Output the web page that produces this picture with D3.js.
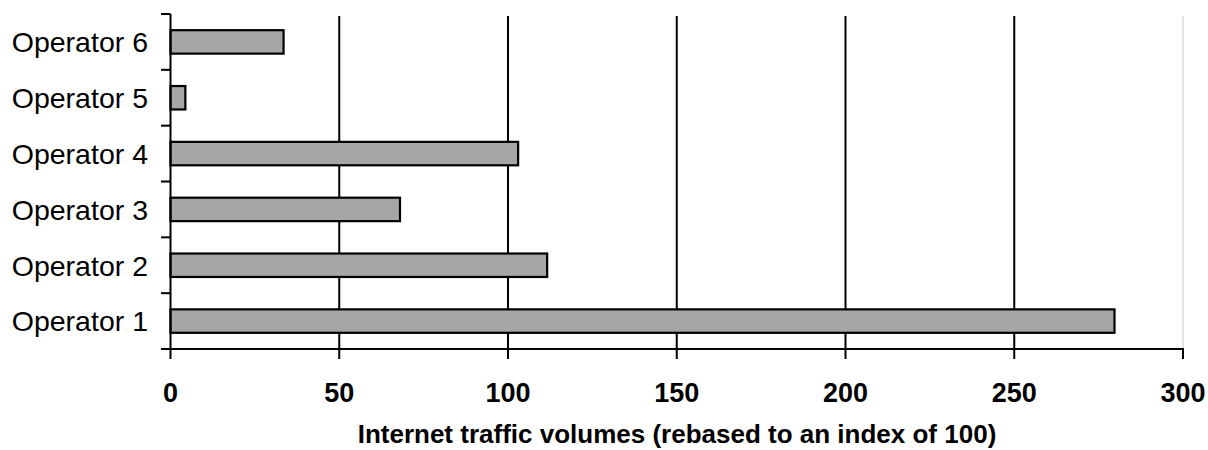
<!DOCTYPE html>
<html><head><meta charset="utf-8">
<script src="https://cdn.jsdelivr.net/npm/d3@7"></script>
<style>body{margin:0;background:#fff}svg{display:block}</style>
</head><body>
<script>
const categories = ["Operator 1","Operator 2","Operator 3","Operator 4","Operator 5","Operator 6"];
const values = [279.7, 111.6, 68, 103, 4.4, 33.5];
const xTicks = [0,50,100,150,200,250,300];
const axisTitle = "Internet traffic volumes (rebased to an index of 100)";

const W=1208,H=450;
const svg=d3.select("body").append("svg").attr("width",W).attr("height",H);
const x=d3.scaleLinear().domain([0,300]).range([170.5,1183]);
const y=d3.scaleBand().domain(categories.slice().reverse()).range([14,349]).paddingInner(0.58).paddingOuter(0.29);
const font="Liberation Sans, Arial, sans-serif";

// gridlines
svg.append("g").selectAll("line").data(xTicks.filter(d=>d>0)).join("line")
  .attr("x1",d=>x(d)).attr("x2",d=>x(d)).attr("y1",16).attr("y2",349)
  .attr("stroke",d=>d===300?"#c8c8c8":"#000").attr("stroke-width",d=>d===300?1:2);

// bars
svg.append("g").selectAll("rect").data(categories).join("rect")
  .attr("x",x(0)).attr("y",d=>y(d)).attr("height",y.bandwidth())
  .attr("width",(d,i)=>x(values[i])-x(0))
  .attr("fill","#a6a6a6").attr("stroke","#000").attr("stroke-width",2.2);

// y axis
const yBounds=d3.range(categories.length+1).map(i=>14+i*(335/categories.length));
svg.append("line").attr("x1",x(0)).attr("x2",x(0)).attr("y1",14).attr("y2",349).attr("stroke","#000").attr("stroke-width",2);
svg.append("g").selectAll("line").data(yBounds).join("line")
  .attr("x1",161).attr("x2",x(0)).attr("y1",d=>d).attr("y2",d=>d).attr("stroke","#000").attr("stroke-width",2);
svg.append("g").selectAll("text").data(categories).join("text")
  .attr("x",148).attr("y",d=>y(d)+y.bandwidth()/2).attr("dy","0.36em")
  .attr("text-anchor","end").attr("font-family",font).attr("font-size",28.5).text(d=>d);

// x axis
svg.append("line").attr("x1",x(0)-1).attr("x2",x(300)+1).attr("y1",349).attr("y2",349).attr("stroke","#000").attr("stroke-width",2);
svg.append("g").selectAll("line").data(xTicks).join("line")
  .attr("x1",d=>x(d)).attr("x2",d=>x(d)).attr("y1",349).attr("y2",359).attr("stroke","#000").attr("stroke-width",2);
svg.append("g").selectAll("text").data(xTicks).join("text")
  .attr("x",d=>x(d)).attr("y",402).attr("text-anchor","middle")
  .attr("font-family",font).attr("font-size",27).attr("font-weight","bold").text(d=>d);
svg.append("text").attr("x",677).attr("y",443).attr("text-anchor","middle")
  .attr("font-family",font).attr("font-size",26).attr("font-weight","bold").text(axisTitle);
</script>
</body></html>
